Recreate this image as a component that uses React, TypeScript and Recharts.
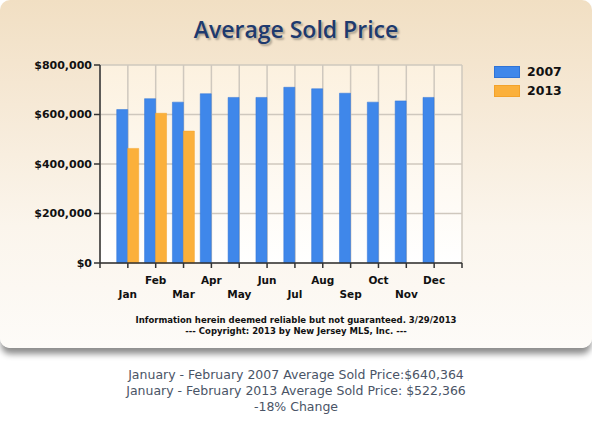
import React from "react";
import { BarChart, Bar, XAxis, YAxis, CartesianGrid } from "recharts";

const months = ["Jan", "Feb", "Mar", "Apr", "May", "Jun", "Jul", "Aug", "Sep", "Oct", "Nov", "Dec"];
const sold2007 = [620000, 664000, 650000, 684000, 669000, 669000, 710000, 704000, 686000, 650000, 655000, 669000];
const sold2013 = [463000, 605000, 533000];
const yTicks = [0, 200000, 400000, 600000, 800000];
const series = [
  { key: "y2007", name: "2007", color: "#3f87ea", stroke: "#2f73d6" },
  { key: "y2013", name: "2013", color: "#fbb03b", stroke: "#f3a22a" },
];

const chartData = months.map((m, i) => ({
  idx: i + 1,
  month: m,
  y2007: sold2007[i],
  y2013: sold2013[i] ?? null,
}));

const xTicks = Array.from({ length: months.length + 2 }, (_, i) => i);

const MonthTick = (props: any) => {
  const { x, y, payload } = props;
  const v = payload.value;
  if (v < 1 || v > months.length) return <g />;
  const lower = v % 2 === 1;
  return (
    <text
      x={x}
      y={y + (lower ? 28 : 14)}
      textAnchor="middle"
      fontFamily="DejaVu Sans"
      fontWeight="bold"
      fontSize={10.5}
      fill="#111"
    >
      {months[v - 1]}
    </text>
  );
};

const money = (v: number) => "$" + v.toLocaleString("en-US");

export default function App() {
  return (
    <div style={{ position: "absolute", left: 0, top: 0, width: 592, height: 432, background: "#fff", overflow: "hidden" }}>
      <div
        style={{
          position: "absolute",
          left: 0,
          top: 0,
          width: 592,
          height: 348,
          borderRadius: 10,
          background: "linear-gradient(to bottom, #f1dfc3 0%, #f6e9d6 30%, #fbf5ec 65%, #fdfbf8 100%)",
          boxShadow: "0 7px 6px -1px rgba(0,0,0,0.45)",
        }}
      >
        <div
          style={{
            position: "absolute",
            left: 0,
            width: 592,
            top: 13,
            textAlign: "center",
            fontFamily: "Open Sans",
            fontWeight: 600,
            fontSize: 23,
            color: "#1e3a6e",
            textShadow: "2px 2px 2px rgba(0,0,0,0.28)",
          }}
        >
          Average Sold Price
        </div>

        <BarChart
          width={592}
          height={348}
          data={chartData}
          margin={{ top: 65, right: 130, bottom: 45, left: 0 }}
          barCategoryGap="10%"
          barGap={0}
          style={{ position: "absolute", left: 0, top: 0 }}
        >
          <defs>
            <linearGradient id="plotBg" x1="0" y1="0" x2="0" y2="1">
              <stop offset="0%" stopColor="#fcf1df" />
              <stop offset="100%" stopColor="#ffffff" />
            </linearGradient>
          </defs>
          <CartesianGrid stroke="#cfc8be" strokeWidth={1.5} fill="url(#plotBg)" />
          <XAxis
            dataKey="idx"
            type="number"
            domain={[0, months.length + 1]}
            ticks={xTicks}
            interval={0}
            height={40}
            tickSize={5}
            axisLine={{ stroke: "#333", strokeWidth: 1.5 }}
            tickLine={{ stroke: "#333", strokeWidth: 1.5 }}
            tick={<MonthTick />}
          />
          <YAxis
            width={100}
            domain={[0, 800000]}
            ticks={yTicks}
            tickFormatter={money}
            tickSize={6}
            axisLine={{ stroke: "#333", strokeWidth: 1.5 }}
            tickLine={{ stroke: "#333", strokeWidth: 1.5 }}
            tick={{ fontFamily: "DejaVu Sans", fontWeight: "bold", fontSize: 11, fill: "#111" }}
          />
          {series.map((s) => (
            <Bar key={s.key} dataKey={s.key} name={s.name} fill={s.color} stroke={s.stroke} strokeWidth={0.5} isAnimationActive={false} />
          ))}
        </BarChart>

        <div style={{ position: "absolute", left: 494, top: 62 }}>
          {series.map((s) => (
            <div key={s.key} style={{ display: "flex", alignItems: "center", height: 19 }}>
              <div style={{ width: 26, height: 12, background: s.color, border: `1px solid ${s.stroke}`, boxSizing: "border-box" }} />
              <span style={{ marginLeft: 7, fontFamily: "DejaVu Sans", fontWeight: "bold", fontSize: 12.5, color: "#111" }}>{s.name}</span>
            </div>
          ))}
        </div>

        <div
          style={{
            position: "absolute",
            left: 0,
            width: 592,
            top: 315,
            textAlign: "center",
            fontFamily: "DejaVu Sans",
            fontWeight: "bold",
            fontSize: 8.5,
            lineHeight: "11px",
            color: "#111",
          }}
        >
          <div>Information herein deemed reliable but not guaranteed. 3/29/2013</div>
          <div>--- Copyright: 2013 by New Jersey MLS, Inc. ---</div>
        </div>
      </div>

      <div
        style={{
          position: "absolute",
          left: 0,
          width: 592,
          top: 367,
          textAlign: "center",
          fontFamily: "DejaVu Sans",
          fontSize: 12.5,
          lineHeight: "16px",
          color: "#4a5466",
        }}
      >
        <div>January - February 2007 Average Sold Price:$640,364</div>
        <div>January - February 2013 Average Sold Price: $522,366</div>
        <div>-18% Change</div>
      </div>
    </div>
  );
}
